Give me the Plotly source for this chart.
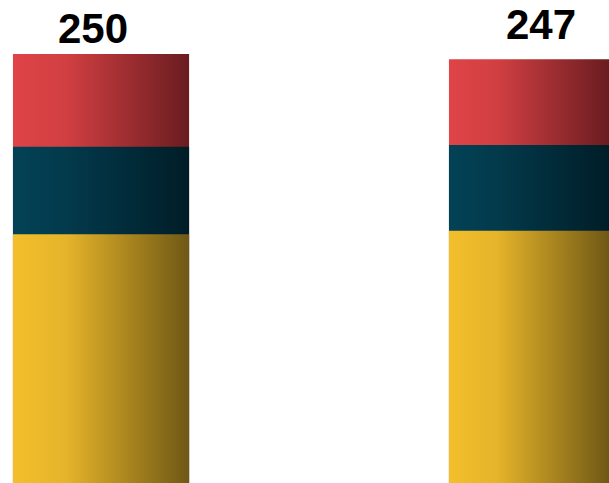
import plotly.graph_objects as go

# Stacked totals per group, bottom segment first
categories = ["A", "B"]
segment_names = ["Yellow", "Teal", "Red"]
yellow_values = [145, 147]
teal_values = [51, 50]
red_values = [54, 50]
totals = [250, 247]

# Horizontal gradient for each segment: light on the left, dark on the right
segment_scales = [
    [[0.0, "#f3bf2c"], [0.3, "#e6b42a"], [1.0, "#6f5815"]],
    [[0.0, "#034256"], [0.3, "#033a4c"], [1.0, "#001d27"]],
    [[0.0, "#df4447"], [0.3, "#d13f42"], [1.0, "#6a1c20"]],
]

BAR_WIDTH = 0.404
X_RANGE = [-0.2317, 1.1651]
Y_RANGE = [0, 281.5]
# label nudges in pixels (x, y)
label_shift = [(-8, 0), (4, 9)]

fig = go.Figure()

series = [yellow_values, teal_values, red_values]
for i, cat in enumerate(categories):
    left = i - BAR_WIDTH / 2
    right = i + BAR_WIDTH / 2
    grad_stop = min(right, X_RANGE[1])
    # cumulative tops of each segment
    tops = []
    acc = 0
    for vals in series:
        acc += vals[i]
        tops.append(acc)
    # paint from the top segment down, each filled from zero, so no seams show
    for name, top, scale in reversed(list(zip(segment_names, tops, segment_scales))):
        fig.add_trace(go.Scatter(
            x=[left, right, right, left, left],
            y=[0, 0, top, top, 0],
            mode="lines",
            line=dict(width=0),
            fill="toself",
            fillgradient=dict(type="horizontal", colorscale=scale,
                              start=left, stop=grad_stop),
            name=name,
            hoverinfo="skip",
            showlegend=False,
        ))

for i, total in enumerate(totals):
    dx, dy = label_shift[i]
    fig.add_annotation(
        x=i, y=total, text=str(total), showarrow=False,
        xanchor="center", yanchor="bottom", xshift=dx, yshift=dy,
        font=dict(family="Liberation Sans, Arial, sans-serif", size=42,
                  color="#000000", weight="bold"),
    )

fig.update_layout(
    width=609, height=483,
    margin=dict(l=0, r=0, t=0, b=0),
    paper_bgcolor="white", plot_bgcolor="white",
    xaxis=dict(range=X_RANGE, visible=False, fixedrange=True),
    yaxis=dict(range=Y_RANGE, visible=False, fixedrange=True),
    showlegend=False,
)

fig.write_html("out.html")
